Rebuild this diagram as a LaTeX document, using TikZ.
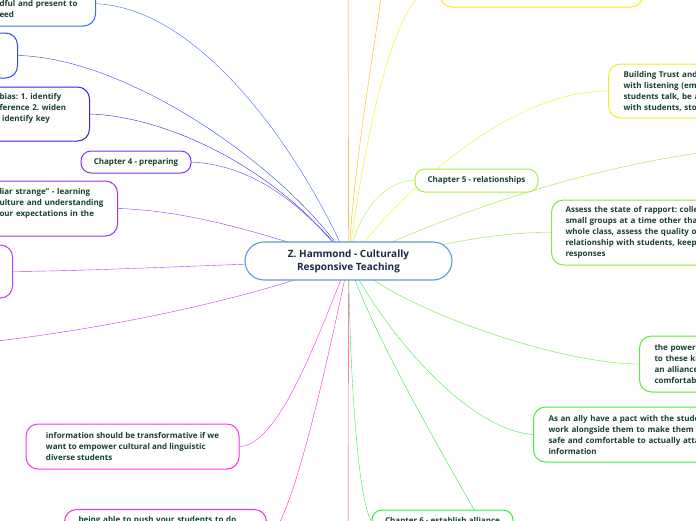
\documentclass[tikz,border=0pt]{standalone}
\usepackage{fontspec}
\setmainfont{Open Sans}
\usetikzlibrary{backgrounds}
\frenchspacing
\definecolor{txt}{HTML}{173F33}
\definecolor{navy}{HTML}{1A2A48}
\definecolor{cc}{HTML}{5B9BD5}
\definecolor{c2}{HTML}{3A6BFF}
\definecolor{c3}{HTML}{2F4BF0}
\definecolor{c4}{HTML}{3A22E0}
\definecolor{c5}{HTML}{7B35EE}
\definecolor{c6}{HTML}{9A35F0}
\definecolor{c7}{HTML}{B63CFF}
\definecolor{c8}{HTML}{C830FF}
\definecolor{c9}{HTML}{FF33E6}
\definecolor{c10}{HTML}{FF2ACF}
\definecolor{pk}{HTML}{FF3399}
\definecolor{g1}{HTML}{33EE44}
\definecolor{g2}{HTML}{2EE83A}
\definecolor{g3}{HTML}{44EE44}
\definecolor{g4}{HTML}{5EEB30}
\definecolor{g5}{HTML}{88E833}
\definecolor{g6}{HTML}{A0E62A}
\definecolor{g7}{HTML}{AAEE44}
\definecolor{y1}{HTML}{EEEE22}
\definecolor{y2}{HTML}{FFE61A}
\definecolor{o2}{HTML}{FFB300}
\definecolor{o1}{HTML}{FF9500}
\newcommand\blank{\vphantom{Ag}}
\begin{document}
\begin{tikzpicture}[x=1pt,y=-1pt,
  every node/.style={font=\frenchspacing\bfseries\fontsize{8}{11}\selectfont, text=txt},
  bx/.style={draw, line width=1pt, rounded corners=12pt, fill=white, inner xsep=14pt, inner ysep=0pt, align=left},
  chap/.style={draw, line width=1pt, rounded corners=10pt, fill=white, inner sep=0pt, align=center},
  con/.style={line width=1.5pt}]
\useasboundingbox (0,0) rectangle (696,520);
\clip (0,0) rectangle (696,520);
% central
\node[draw=cc, line width=1.1pt, rounded corners=19pt, fill=white, minimum width=207pt, minimum height=38pt, align=center, font=\bfseries\fontsize{10}{13}\selectfont, text=navy] (c) at (348.5,261) {Z. Hammond - Culturally\\Responsive Teaching};
% left
\node[bx, draw=c2, anchor=east, text width=82pt, minimum height=44.5pt] (n2) at (96,3.75) {\blank\\\mbox{dful and present to}\\\mbox{eed}};
\node[bx, draw=c3, anchor=east, minimum width=40pt, minimum height=45pt] (n3) at (18,55.5) {};
\node[bx, draw=c4, anchor=east, text width=76pt, minimum height=54pt] (n4) at (90,114) {\mbox{bias: 1. identify}\\\mbox{ference 2. widen}\\\mbox{ identify key}\\\blank};
\node[chap, draw=c5, minimum width=110pt, minimum height=22pt] (ch4) at (136,162) {Chapter 4 - preparing};
\node[bx, draw=c6, anchor=east, text width=104pt, minimum height=55pt] (n6) at (118,208.5) {\mbox{liar strange" - learning}\\\mbox{ulture and understanding}\\\mbox{our expectations in the}\\\blank};
\node[bx, draw=c7, anchor=east, minimum width=40pt, minimum height=53pt] (n7) at (13,271.5) {};
\node[bx, draw=c9, minimum width=213pt, minimum height=45pt, inner xsep=0pt] (n9) at (132.5,446.5) {information should be transformative if we\\want to empower cultural and linguistic\\diverse students};
\node[bx, draw=c10, anchor=north west, text width=174pt, minimum height=54pt] (n10) at (64,509) {being able to push your students to do\\\blank\\\blank\\\blank};
% bottom / right
\node[chap, draw=g1, minimum width=141pt, minimum height=23pt] (ch6) at (442.5,521.5) {Chapter 6 - establish alliance};
\node[bx, draw=g3, anchor=west, inner xsep=15pt, text width=190pt, minimum height=55pt] (ally) at (533,434.5) {As an ally have a pact with the stude\\work alongside them to make them f\\safe and comfortable to actually atta\\information};
\node[bx, draw=g4, anchor=west, inner xsep=15pt, text width=120pt, minimum height=56pt] (pow) at (639,364) {the power\\to these ki\\an alliance\\comfortab};
\node[bx, draw=g5, anchor=west, inner xsep=14pt, text width=190pt, minimum height=65pt] (ass) at (551,232.5) {Assess the state of rapport: colle\\small groups at a time other tha\\whole class, assess the quality of\\relationship with students, keep\\responses};
\node[chap, draw=g7, minimum width=123pt, minimum height=23pt] (ch5) at (476.5,180.5) {Chapter 5 - relationships};
\node[bx, draw=y1, anchor=west, inner xsep=15pt, text width=150pt, minimum height=54pt] (tru) at (608,91) {Building Trust and\\with listening (em\\students talk, be a\\with students, sto};
\node[bx, draw=y2, minimum width=203pt, minimum height=45pt] (top) at (541.5,-15.5) {};
% off-page ends
\coordinate (o1e) at (348,-40);
\coordinate (o2e) at (386,-40);
\coordinate (tre) at (720,150);
\coordinate (l8e) at (-20,343);
\coordinate (pke) at (348,560);
\coordinate (gse) at (500,555);
\begin{scope}[on background layer, con]
\draw[c2] (n2.east) .. controls (200,8) and (300,150) .. (c.center);
\draw[c3] (n3.east) .. controls (130,58) and (290,170) .. (c.center);
\draw[c4] (n4.east) .. controls (170,117) and (280,170) .. (c.center);
\draw[c5] (ch4.east) .. controls (250,165) and (300,200) .. (c.center);
\draw[c6] (n6.east) .. controls (200,211) and (280,240) .. (c.center);
\draw[c7] (n7.east) .. controls (100,271) and (250,263) .. (c.center);
\draw[c8] (l8e) .. controls (100,330) and (250,300) .. (c.center);
\draw[c9] (n9.east) .. controls (280,446) and (320,330) .. (c.center);
\draw[c10] (n10.east) .. controls (290,536) and (330,350) .. (c.center);
\draw[pk] (pke) -- (c.center);
\draw[g1] (ch6.west) .. controls (358,500) and (350,380) .. (c.center);
\draw[g2] (gse) .. controls (440,450) and (370,330) .. (c.center);
\draw[g3] (ally.west) .. controls (470,430) and (390,340) .. (c.center);
\draw[g4] (pow.west) .. controls (560,364) and (400,310) .. (c.center);
\draw[g5] (ass.west) .. controls (480,232) and (430,250) .. (c.center);
\draw[g6] (tre) .. controls (560,170) and (420,228) .. (c.center);
\draw[g7] (ch5.west) .. controls (380,180.5) and (355,220) .. (c.center);
\draw[y1] (tru.west) .. controls (520,91) and (420,170) .. (c.center);
\draw[y2] (top.west) .. controls (400,-15) and (370,100) .. (c.center);
\draw[o2] (o2e) .. controls (375,50) and (355,150) .. (c.center);
\draw[o1] (o1e) -- (c.center);
\end{scope}
\end{tikzpicture}
\end{document}
